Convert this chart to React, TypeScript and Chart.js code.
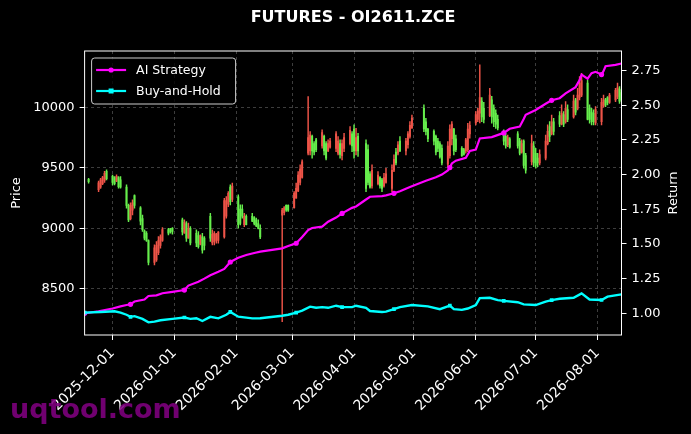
import React, { useEffect, useRef } from "react";
import { Chart, registerables } from "chart.js";

Chart.register(...registerables);

// ---------- data ----------
const candleDates = [
  "2025-11-19", "2025-11-24", "2025-11-25", "2025-11-26", "2025-11-27", "2025-11-28",
  "2025-12-01", "2025-12-02", "2025-12-03", "2025-12-04", "2025-12-05",
  "2025-12-08", "2025-12-09", "2025-12-10", "2025-12-11", "2025-12-12",
  "2025-12-15", "2025-12-16", "2025-12-17", "2025-12-18", "2025-12-19",
  "2025-12-22", "2025-12-23", "2025-12-24", "2025-12-25", "2025-12-26",
  "2025-12-29", "2025-12-30", "2025-12-31",
  "2026-01-05", "2026-01-06", "2026-01-07", "2026-01-08", "2026-01-09",
  "2026-01-12", "2026-01-13", "2026-01-14", "2026-01-15", "2026-01-16",
  "2026-01-19", "2026-01-20", "2026-01-21", "2026-01-22", "2026-01-23",
  "2026-01-26", "2026-01-27", "2026-01-28", "2026-01-29", "2026-01-30",
  "2026-02-02", "2026-02-03", "2026-02-04", "2026-02-05", "2026-02-06",
  "2026-02-09", "2026-02-10", "2026-02-11", "2026-02-12", "2026-02-13",
  "2026-02-24", "2026-02-25", "2026-02-26", "2026-02-27",
  "2026-03-02", "2026-03-03", "2026-03-04", "2026-03-05", "2026-03-06",
  "2026-03-09", "2026-03-10", "2026-03-11", "2026-03-12", "2026-03-13",
  "2026-03-16", "2026-03-17", "2026-03-18", "2026-03-19", "2026-03-20",
  "2026-03-23", "2026-03-24", "2026-03-25", "2026-03-26", "2026-03-27",
  "2026-03-30", "2026-03-31", "2026-04-01", "2026-04-02", "2026-04-03",
  "2026-04-07", "2026-04-08", "2026-04-09", "2026-04-10",
  "2026-04-13", "2026-04-14", "2026-04-15", "2026-04-16", "2026-04-17",
  "2026-04-20", "2026-04-21", "2026-04-22", "2026-04-23", "2026-04-24",
  "2026-04-27", "2026-04-28", "2026-04-29", "2026-04-30",
  "2026-05-06", "2026-05-07", "2026-05-08",
  "2026-05-11", "2026-05-12", "2026-05-13", "2026-05-14", "2026-05-15",
  "2026-05-18", "2026-05-19", "2026-05-20", "2026-05-21", "2026-05-22",
  "2026-05-25", "2026-05-26", "2026-05-27", "2026-05-28", "2026-05-29",
  "2026-06-01", "2026-06-02", "2026-06-03", "2026-06-04", "2026-06-05",
  "2026-06-08", "2026-06-09", "2026-06-10", "2026-06-11", "2026-06-12",
  "2026-06-15", "2026-06-16", "2026-06-17", "2026-06-18",
  "2026-06-22", "2026-06-23", "2026-06-24", "2026-06-25", "2026-06-26",
  "2026-06-29", "2026-06-30", "2026-07-01", "2026-07-02", "2026-07-03",
  "2026-07-06", "2026-07-07", "2026-07-08", "2026-07-09", "2026-07-10",
  "2026-07-13", "2026-07-14", "2026-07-15", "2026-07-16", "2026-07-17",
  "2026-07-20", "2026-07-21", "2026-07-22", "2026-07-23", "2026-07-24",
  "2026-07-27", "2026-07-28", "2026-07-29", "2026-07-30", "2026-07-31",
  "2026-08-03", "2026-08-04", "2026-08-05", "2026-08-06", "2026-08-07",
  "2026-08-10", "2026-08-11", "2026-08-12", "2026-08-13",
];

const openPrices = [
  9405, 9320, 9340, 9370, 9395, 9470,
  9430, 9420, 9390, 9420, 9400,
  9340, 9190, 9080, 9150, 9270,
  9170, 9080, 8980, 8960, 8900,
  8720, 8740, 8800, 8860, 8900,
  8990, 8995, 9000,
  9070, 8960, 9040, 8920, 9000,
  8960, 8940, 8870, 8930, 8920,
  9100, 8880, 8890, 8900, 8900,
  8930, 9100, 9200, 9340, 9240,
  9260, 9160, 9160, 9030, 9100,
  9100, 9090, 9070, 9040, 9000,
  9110, 9130, 9190, 9190,
  9170, 9250, 9310, 9380, 9420,
  9620, 9640, 9760, 9700, 9730,
  9680, 9760, 9700, 9640, 9670,
  9660, 9620, 9700, 9600, 9660,
  9700, 9780, 9820, 9640, 9760,
  9700, 9650, 9450, 9350,
  9370, 9420, 9400, 9350, 9380,
  9330, 9480, 9630, 9620, 9720,
  9640, 9690, 9760, 9830,
  9990, 9880, 9820,
  9800, 9760, 9720, 9700, 9660,
  9530, 9600, 9740, 9820, 9740,
  9660, 9650, 9640, 9650, 9780,
  9870, 9900, 9950, 10050, 9990,
  9930, 10060, 9990, 9950, 9900,
  9800, 9760, 9690, 9740,
  9780, 9720, 9630, 9720, 9600,
  9550, 9680, 9620, 9580, 9540,
  9580, 9700, 9840, 9780, 9880,
  9930, 9860, 9940, 9880, 9980,
  9920, 10060, 9990, 10080, 10100,
  10200, 9990, 9960, 9950, 9870,
  9880, 10010, 10060, 10080, 10040,
  10060, 10090, 10150, 10120,
];

const highPrices = [
  9414, 9390, 9414, 9430, 9470, 9483,
  9440, 9428, 9441, 9428, 9428,
  9359, 9200, 9210, 9235, 9276,
  9180, 9110, 8988, 8974, 8905,
  8864, 8891, 8933, 8946, 9007,
  9001, 9001, 9007,
  9084, 9070, 9056, 9043, 9015,
  8988, 8974, 8946, 8960, 8933,
  9125, 8988, 8974, 8960, 8974,
  9249, 9263, 9304, 9359, 9373,
  9276, 9194, 9194, 9125, 9111,
  9125, 9098, 9084, 9070, 9029,
  9166, 9180, 9194, 9194,
  9304, 9373, 9469, 9524, 9565,
  10088, 9799, 9771, 9716, 9744,
  9813, 9771, 9716, 9730, 9744,
  9799, 9758, 9730, 9730, 9785,
  9840, 9799, 9854, 9826, 9785,
  9730, 9689, 9469, 9524,
  9469, 9428, 9414, 9455, 9496,
  9524, 9607, 9661, 9716, 9758,
  9744, 9799, 9882, 9936,
  10019, 9909, 9826,
  9813, 9771, 9744, 9716, 9689,
  9716, 9854, 9882, 9826, 9771,
  9675, 9661, 9744, 9868, 9882,
  9964, 9991, 10350, 10080, 10040,
  10156, 10090, 10019, 9978, 9936,
  9813, 9785, 9771, 9750,
  9799, 9744, 9730, 9730, 9620,
  9771, 9716, 9661, 9620, 9648,
  9771, 9854, 9882, 9936, 9909,
  9964, 10019, 9964, 10046, 10019,
  10101, 10074, 10156, 10253, 10280,
  10225, 10019, 9991, 9978, 10005,
  10074, 10101, 10074, 10087, 10115,
  10156, 10200, 10170, 10140,
];

const lowPrices = [
  9373, 9304, 9330, 9360, 9380, 9400,
  9359, 9359, 9386, 9332, 9332,
  9166, 9056, 9070, 9111, 9166,
  9029, 8974, 8905, 8892, 8699,
  8699, 8727, 8782, 8836, 8892,
  8946, 8960, 8952,
  8946, 8960, 8892, 8919, 8864,
  8850, 8836, 8864, 8795, 8823,
  8892, 8864, 8864, 8878, 8878,
  8919, 9084, 9180, 9194, 9221,
  9001, 9029, 9084, 9015, 9029,
  9056, 9029, 9015, 8995, 8916,
  8231, 9111, 9139, 9139,
  9166, 9249, 9304, 9359, 9414,
  9607, 9607, 9579, 9606, 9634,
  9661, 9606, 9565, 9634, 9661,
  9634, 9607, 9579, 9565, 9634,
  9689, 9634, 9579, 9606, 9593,
  9304, 9359, 9332, 9332,
  9359, 9332, 9304, 9340, 9373,
  9304, 9469, 9524, 9606, 9634,
  9607, 9661, 9744, 9826,
  9799, 9771, 9716,
  9689, 9606, 9634, 9579, 9524,
  9510, 9579, 9689, 9606, 9634,
  9593, 9605, 9620, 9634, 9744,
  9854, 9881, 9870, 9880, 9870,
  9923, 9868, 9840, 9826, 9813,
  9689, 9661, 9675, 9661,
  9661, 9606, 9620, 9496, 9455,
  9524, 9510, 9496, 9510, 9524,
  9565, 9689, 9716, 9771, 9771,
  9840, 9854, 9840, 9868, 9881,
  9909, 9936, 9978, 10060, 10087,
  9895, 9868, 9854, 9854, 9854,
  9854, 10000, 10005, 10019, 10032,
  10046, 10070, 10032, 10046,
];

const closePrices = [
  9385, 9375, 9400, 9420, 9455, 9410,
  9380, 9370, 9430, 9345, 9340,
  9190, 9070, 9190, 9210, 9190,
  9060, 8990, 8920, 8900, 8720,
  8840, 8860, 8900, 8930, 8990,
  8960, 8970, 8975,
  8970, 9050, 8920, 9000, 8880,
  8880, 8850, 8940, 8820, 8860,
  8920, 8950, 8960, 8950, 8970,
  9230, 9230, 9290, 9220, 9350,
  9030, 9040, 9100, 9100, 9030,
  9060, 9040, 9020, 9000, 8930,
  9150, 9170, 9150, 9150,
  9290, 9330, 9440, 9490, 9550,
  9750, 9770, 9640, 9630, 9650,
  9790, 9640, 9580, 9700, 9720,
  9780, 9720, 9610, 9700, 9750,
  9810, 9680, 9640, 9750, 9640,
  9330, 9380, 9340, 9480,
  9440, 9350, 9330, 9420, 9450,
  9480, 9570, 9540, 9690, 9640,
  9720, 9780, 9850, 9910,
  9820, 9800, 9740,
  9720, 9630, 9660, 9590, 9540,
  9680, 9820, 9860, 9640, 9650,
  9600, 9610, 9730, 9820, 9850,
  9940, 9970, 10080, 9920, 9900,
  10100, 9920, 9880, 9860, 9830,
  9720, 9680, 9750, 9670,
  9680, 9620, 9700, 9520, 9480,
  9700, 9540, 9520, 9540, 9610,
  9720, 9800, 9760, 9880, 9800,
  9860, 9950, 9860, 9990, 9900,
  10050, 9960, 10100, 10200, 10220,
  9900, 9900, 9880, 9880, 9980,
  10040, 10060, 10020, 10040, 10100,
  10140, 10160, 10050, 10060,
];

const strategyDates = [
  "2025-11-17", "2025-11-24", "2025-12-01", "2025-12-05", "2025-12-08", "2025-12-10",
  "2025-12-12", "2025-12-17", "2025-12-19", "2025-12-23", "2025-12-26", "2025-12-31",
  "2026-01-06", "2026-01-08", "2026-01-13", "2026-01-16", "2026-01-19", "2026-01-23",
  "2026-01-26", "2026-01-29", "2026-02-02", "2026-02-06", "2026-02-10", "2026-02-13",
  "2026-02-24", "2026-02-27", "2026-03-03", "2026-03-06", "2026-03-09", "2026-03-11",
  "2026-03-16", "2026-03-19", "2026-03-23", "2026-03-26", "2026-03-31", "2026-04-02",
  "2026-04-07", "2026-04-09", "2026-04-15", "2026-04-17", "2026-04-21", "2026-04-24",
  "2026-04-29", "2026-05-07", "2026-05-12", "2026-05-15", "2026-05-18", "2026-05-19",
  "2026-05-20", "2026-05-22", "2026-05-27", "2026-05-29", "2026-06-01", "2026-06-03",
  "2026-06-09", "2026-06-15", "2026-06-18", "2026-06-23", "2026-06-25", "2026-06-26",
  "2026-07-01", "2026-07-06", "2026-07-09", "2026-07-13", "2026-07-16", "2026-07-21",
  "2026-07-23", "2026-07-24", "2026-07-27", "2026-07-29", "2026-07-31", "2026-08-03",
  "2026-08-04", "2026-08-05", "2026-08-10", "2026-08-13",
];
const strategyValues = [
  1.0, 1.015, 1.035, 1.05, 1.06, 1.065,
  1.085, 1.1, 1.125, 1.13, 1.145, 1.155,
  1.168, 1.2, 1.228, 1.25, 1.275, 1.3,
  1.32, 1.37, 1.4, 1.42, 1.435, 1.445,
  1.468, 1.485, 1.505, 1.55, 1.6, 1.615,
  1.625, 1.66, 1.69, 1.72, 1.76, 1.77,
  1.82, 1.84, 1.845, 1.85, 1.865, 1.88,
  1.91, 1.955, 1.98, 2.0, 2.03, 2.05,
  2.08, 2.1, 2.12, 2.17, 2.18, 2.26,
  2.27, 2.3, 2.33, 2.345, 2.4, 2.43,
  2.465, 2.51, 2.535, 2.55, 2.585, 2.63,
  2.68, 2.72, 2.69, 2.73, 2.74, 2.72,
  2.745, 2.78, 2.79, 2.8,
];

const holdDates = [
  "2025-11-17", "2025-11-25", "2025-12-02", "2025-12-05", "2025-12-08", "2025-12-10",
  "2025-12-12", "2025-12-16", "2025-12-19", "2025-12-22", "2025-12-25", "2025-12-31",
  "2026-01-06", "2026-01-09", "2026-01-12", "2026-01-15", "2026-01-19", "2026-01-23",
  "2026-01-27", "2026-01-29", "2026-02-02", "2026-02-09", "2026-02-13", "2026-02-24",
  "2026-02-27", "2026-03-03", "2026-03-06", "2026-03-10", "2026-03-13", "2026-03-16",
  "2026-03-19", "2026-03-23", "2026-03-26", "2026-03-31", "2026-04-02", "2026-04-07",
  "2026-04-09", "2026-04-15", "2026-04-17", "2026-04-21", "2026-04-24", "2026-04-30",
  "2026-05-08", "2026-05-14", "2026-05-19", "2026-05-21", "2026-05-25", "2026-05-28",
  "2026-06-01", "2026-06-03", "2026-06-08", "2026-06-12", "2026-06-15", "2026-06-22",
  "2026-06-25", "2026-07-01", "2026-07-06", "2026-07-09", "2026-07-13", "2026-07-20",
  "2026-07-24", "2026-07-28", "2026-08-03", "2026-08-06", "2026-08-13",
];
const holdValues = [
  1.005, 1.01, 1.015, 1.005, 0.99, 0.975,
  0.98, 0.96, 0.935, 0.94, 0.95, 0.96,
  0.97, 0.96, 0.965, 0.945, 0.975, 0.964,
  0.99, 1.01, 0.976, 0.964, 0.965, 0.983,
  0.99, 1.005, 1.02, 1.048, 1.04, 1.045,
  1.04, 1.055, 1.045, 1.045, 1.055, 1.04,
  1.017, 1.01, 1.012, 1.03, 1.045, 1.06,
  1.05, 1.03, 1.055, 1.03, 1.025, 1.035,
  1.06, 1.11, 1.112, 1.095, 1.09, 1.08,
  1.065, 1.06, 1.085, 1.095, 1.105, 1.112,
  1.144, 1.1, 1.096, 1.12, 1.137,
];

const markerDates = [
  "2025-11-17", "2025-12-10", "2026-01-06", "2026-01-29", "2026-03-03", "2026-03-26",
  "2026-04-21", "2026-05-19", "2026-06-15", "2026-07-09", "2026-08-03",
];

const monthTicks = [
  "2025-12-01", "2026-01-01", "2026-02-01", "2026-03-01", "2026-04-01",
  "2026-05-01", "2026-06-01", "2026-07-01", "2026-08-01",
];
const priceTicks = [8500, 9000, 9500, 10000];
const returnTicks = [1.0, 1.25, 1.5, 1.75, 2.0, 2.25, 2.5, 2.75];

const xStart = "2025-11-17";
const xEnd = "2026-08-13";

// ---------- helpers ----------
const toDay = (s: string) => {
  const [y, m, d] = s.split("-").map(Number);
  return Date.UTC(y, m - 1, d) / 86400000;
};
const fmtDay = (v: number) => new Date(Math.round(v) * 86400000).toISOString().slice(0, 10);

const UP = "#ee5448";
const DOWN = "#66ee4c";
const MAGENTA = "#ff00ff";
const CYAN = "#00ffff";
const FONT = "'DejaVu Sans', 'Noto Sans', sans-serif";

const decorPlugin = {
  id: "decor",
  beforeDraw(chart: any) {
    const { ctx, width, height } = chart;
    ctx.save();
    ctx.fillStyle = "#000";
    ctx.fillRect(0, 0, width, height);
    ctx.restore();
  },
  afterDatasetsDraw(chart: any) {
    const { ctx, chartArea: a } = chart;
    ctx.save();
    ctx.strokeStyle = "#ffffff";
    ctx.lineWidth = 1;
    ctx.strokeRect(a.left, a.top, a.right - a.left, a.bottom - a.top);
    ctx.restore();
  },
  afterDraw(chart: any) {
    const { ctx, chartArea: a, width } = chart;
    ctx.save();
    // title
    ctx.fillStyle = "#ffffff";
    ctx.font = `bold 16px ${FONT}`;
    ctx.textAlign = "center";
    ctx.textBaseline = "middle";
    ctx.fillText("FUTURES - OI2611.ZCE", (a.left + a.right) / 2, 18);

    // right axis label (reads bottom-to-top, like matplotlib)
    ctx.save();
    ctx.translate(width - 17, (a.top + a.bottom) / 2);
    ctx.rotate(-Math.PI / 2);
    ctx.font = `13px ${FONT}`;
    ctx.fillStyle = "#ffffff";
    ctx.textAlign = "center";
    ctx.textBaseline = "middle";
    ctx.fillText("Return", 0, 0);
    ctx.restore();

    // legend
    const lx = a.left + 7;
    const ly = a.top + 7;
    const lw = 144;
    const lh = 46;
    const r = 3;
    ctx.beginPath();
    ctx.moveTo(lx + r, ly);
    ctx.lineTo(lx + lw - r, ly);
    ctx.quadraticCurveTo(lx + lw, ly, lx + lw, ly + r);
    ctx.lineTo(lx + lw, ly + lh - r);
    ctx.quadraticCurveTo(lx + lw, ly + lh, lx + lw - r, ly + lh);
    ctx.lineTo(lx + r, ly + lh);
    ctx.quadraticCurveTo(lx, ly + lh, lx, ly + lh - r);
    ctx.lineTo(lx, ly + r);
    ctx.quadraticCurveTo(lx, ly, lx + r, ly);
    ctx.closePath();
    ctx.fillStyle = "rgba(0,0,0,0.8)";
    ctx.fill();
    ctx.strokeStyle = "#cccccc";
    ctx.lineWidth = 1;
    ctx.stroke();

    const items = [
      { label: "AI Strategy", color: MAGENTA, square: false, y: ly + 12 },
      { label: "Buy-and-Hold", color: CYAN, square: true, y: ly + 33 },
    ];
    items.forEach((it) => {
      ctx.strokeStyle = it.color;
      ctx.lineWidth = 2.2;
      ctx.beginPath();
      ctx.moveTo(lx + 4.5, it.y);
      ctx.lineTo(lx + 34.5, it.y);
      ctx.stroke();
      ctx.fillStyle = it.color;
      const mx = lx + 19.5;
      if (it.square) {
        ctx.fillRect(mx - 2.5, it.y - 2.5, 5, 5);
      } else {
        ctx.beginPath();
        ctx.arc(mx, it.y, 2.6, 0, Math.PI * 2);
        ctx.fill();
      }
      ctx.fillStyle = "#ffffff";
      ctx.font = `12.5px ${FONT}`;
      ctx.textAlign = "left";
      ctx.textBaseline = "middle";
      ctx.fillText(it.label, lx + 44.5, it.y + 0.5);
    });

    // watermark
    ctx.fillStyle = "rgba(128,0,128,0.88)";
    ctx.font = `bold 27px ${FONT}`;
    ctx.textAlign = "left";
    ctx.textBaseline = "alphabetic";
    ctx.fillText("uqtool.com", 10, 418);
    ctx.restore();
  },
};

export default function App() {
  const canvasRef = useRef<HTMLCanvasElement | null>(null);

  useEffect(() => {
    document.body.style.margin = "0";
    document.body.style.background = "#000";
    const canvas = canvasRef.current;
    if (!canvas) return;

    const candleColors = closePrices.map((c, i) => (c >= openPrices[i] ? UP : DOWN));
    const markerSet = new Set(markerDates);

    const chart = new Chart(canvas, {
      type: "bar",
      data: {
        datasets: [
          {
            type: "line",
            label: "Buy-and-Hold",
            data: holdDates.map((d, i) => ({ x: toDay(d), y: holdValues[i] })),
            yAxisID: "y1",
            borderColor: CYAN,
            backgroundColor: CYAN,
            borderWidth: 2.4,
            pointStyle: "rect",
            pointRadius: holdDates.map((d) => (markerSet.has(d) ? 2.6 : 0)),
            pointBorderWidth: 0,
            tension: 0,
            order: 0,
          } as any,
          {
            type: "line",
            label: "AI Strategy",
            data: strategyDates.map((d, i) => ({ x: toDay(d), y: strategyValues[i] })),
            yAxisID: "y1",
            borderColor: MAGENTA,
            backgroundColor: MAGENTA,
            borderWidth: 2.2,
            pointStyle: "circle",
            pointRadius: strategyDates.map((d) => (markerSet.has(d) ? 2.6 : 0)),
            pointBorderWidth: 0,
            tension: 0,
            order: 1,
          } as any,
          {
            type: "bar",
            label: "body",
            data: candleDates.map((d, i) => ({ x: toDay(d), y: [openPrices[i], closePrices[i]] })),
            yAxisID: "y",
            backgroundColor: candleColors,
            borderWidth: 0,
            barThickness: 1.3,
            minBarLength: 1,
            grouped: false,
            order: 2,
          } as any,
          {
            type: "bar",
            label: "wick",
            data: candleDates.map((d, i) => ({ x: toDay(d), y: [lowPrices[i], highPrices[i]] })),
            yAxisID: "y",
            backgroundColor: candleColors,
            borderWidth: 0,
            barThickness: 0.8,
            grouped: false,
            order: 3,
          } as any,
        ],
      },
      options: {
        animation: false,
        responsive: true,
        maintainAspectRatio: false,
        events: [],
        layout: { padding: { top: 51, left: 0, right: 0, bottom: 0 } },
        font: { family: FONT, size: 12.5 },
        plugins: {
          legend: { display: false },
          title: { display: false },
          tooltip: { enabled: false },
        },
        scales: {
          x: {
            type: "linear",
            min: toDay(xStart),
            max: toDay(xEnd),
            offset: false,
            afterFit: (s: any) => {
              s.height = 99;
            },
            afterBuildTicks: (s: any) => {
              s.ticks = monthTicks.map((d) => ({ value: toDay(d) }));
            },
            ticks: {
              color: "#ffffff",
              font: { family: FONT, size: 14 },
              autoSkip: false,
              minRotation: 45,
              maxRotation: 45,
              padding: 5,
              callback: (v: any) => fmtDay(Number(v)),
            },
            grid: {
              offset: false,
              color: "rgba(140,140,140,0.55)",
              lineWidth: 0.8,
              tickColor: "#ffffff",
              tickLength: 5,
              tickWidth: 1,
              tickBorderDash: [],
            },
            border: { display: false, dash: [3, 3] },
          },
          y: {
            type: "linear",
            position: "left",
            min: 8120,
            max: 10464,
            afterFit: (s: any) => {
              s.width = 84.6;
            },
            afterBuildTicks: (s: any) => {
              s.ticks = priceTicks.map((v) => ({ value: v }));
            },
            ticks: {
              color: "#ffffff",
              font: { family: FONT, size: 13 },
              padding: 5,
              callback: (v: any) => String(v),
            },
            title: {
              display: true,
              text: "Price",
              color: "#ffffff",
              font: { family: FONT, size: 13 },
              padding: { top: 9, bottom: 0 },
            },
            grid: {
              color: "rgba(140,140,140,0.55)",
              lineWidth: 0.8,
              tickColor: "#ffffff",
              tickLength: 5,
              tickWidth: 1,
              tickBorderDash: [],
            },
            border: { display: false, dash: [3, 3] },
          },
          y1: {
            type: "linear",
            position: "right",
            min: 0.844,
            max: 2.89,
            afterFit: (s: any) => {
              s.width = 69.5;
            },
            afterBuildTicks: (s: any) => {
              s.ticks = returnTicks.map((v) => ({ value: v }));
            },
            ticks: {
              color: "#ffffff",
              font: { family: FONT, size: 13 },
              padding: 5,
              callback: (v: any) => Number(v).toFixed(2),
            },
            title: { display: false },
            grid: {
              drawOnChartArea: false,
              tickColor: "#ffffff",
              tickLength: 5,
              tickWidth: 1,
            },
            border: { display: false },
          },
        },
      } as any,
      plugins: [decorPlugin],
    });

    return () => {
      chart.destroy();
    };
  }, []);

  return (
    <div
      style={{
        position: "absolute",
        left: 0,
        top: 0,
        width: 691,
        height: 434,
        background: "#000",
      }}
    >
      <canvas ref={canvasRef} />
    </div>
  );
}
